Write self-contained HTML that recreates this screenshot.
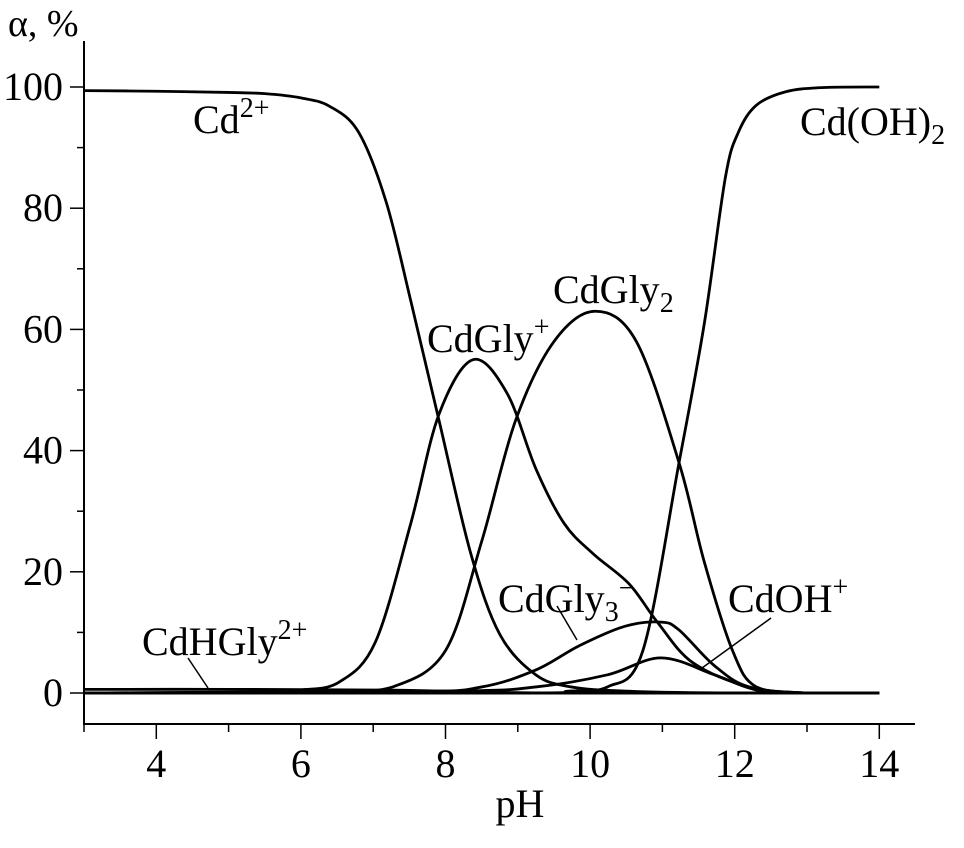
<!DOCTYPE html>
<html><head><meta charset="utf-8"><style>
body{margin:0;background:#fff}
svg text{font-family:"Liberation Serif",serif;fill:#000}
</style></head><body>
<svg id="c" width="964" height="843" xmlns="http://www.w3.org/2000/svg"></svg>
<script>
const xTicks=[4,6,8,10,12,14];
const yTicks=[0,20,40,60,80,100];
const cd2=[[3,99.4],[4,99.3],[5,99.1],[5.5,98.9],[6,98.2],[6.4,96.8],[6.8,92.5],[7.18,81],[7.52,64.7],[7.91,45],[8.35,23],[8.75,9.7],[9.25,3],[9.74,1],[10.5,0.3],[12,0],[14,0]];
const cdGly=[[3,0],[5.5,0.2],[6,0.5],[6.53,1.8],[7.03,8.4],[7.52,28],[7.91,46],[8.38,55],[8.85,49.5],[9.25,37],[9.64,28],[10.04,23],[10.54,18],[10.93,11.7],[11.42,5],[12.2,1],[13,0],[14,0]];
const cdGly2=[[3,0],[6,0],[6.5,0.2],[7.27,1],[8.0,7],[8.5,25],[8.97,45],[9.5,58],[10.07,63],[10.64,58],[11.23,38],[11.58,21.6],[11.97,7],[12.3,1],[13,0],[14,0]];
const cdOH2=[[3,0],[9,0],[9.7,0.3],[10.24,1],[10.73,7],[11.23,38],[11.58,61],[11.87,85],[12.05,92.5],[12.3,97],[12.7,99.2],[13.2,99.9],[14,100]];
const cdGly3=[[3,0],[7.5,0.2],[8.5,1],[9.25,3.8],[9.85,7.8],[10.48,11],[10.98,11.7],[11.23,10.4],[11.72,4.5],[12.2,1],[13,0],[14,0]];
const cdOH=[[3,0],[8,0.3],[9.25,1],[10.24,3],[10.98,5.8],[11.72,3],[12.3,0.5],[13,0],[14,0]];
const cdHGly=[[3,0.6],[5,0.6],[7,0.5],[8,0.3],[9,0.05],[10,0],[14,0]];
const X=p=>84+72.3*(p-3), Y=v=>693-6.06*v;
const svg=document.getElementById('c'),NS='http://www.w3.org/2000/svg';
function mk(t,a,parent){const e=document.createElementNS(NS,t);for(const k in a)e.setAttribute(k,a[k]);(parent||svg).appendChild(e);return e;}
function path(pts){const P=pts.map(p=>[X(p[0]),Y(p[1])]);let d='M'+P[0][0]+','+P[0][1];
for(let i=0;i<P.length-1;i++){const p0=P[Math.max(i-1,0)],p1=P[i],p2=P[i+1],p3=P[Math.min(i+2,P.length-1)];
const c1=[p1[0]+(p2[0]-p0[0])/6,p1[1]+(p2[1]-p0[1])/6],c2=[p2[0]-(p3[0]-p1[0])/6,p2[1]-(p3[1]-p1[1])/6];
d+=` C${c1[0]},${Math.min(c1[1],693)} ${c2[0]},${Math.min(c2[1],693)} ${p2[0]},${p2[1]}`;}return d;}
let e=mk('line',{x1:84,y1:41,x2:84,y2:724,stroke:'#000','stroke-width':2});

e=mk('line',{x1:83,y1:724,x2:915,y2:724,stroke:'#000','stroke-width':2});

for(let p=3;p<=14;p++){const maj=p%2==0;e=mk('line',{x1:X(p),y1:724,x2:X(p),y2:maj?739:732,stroke:'#000','stroke-width':1.5});
}
xTicks.forEach(t=>{e=mk('text',{x:X(t),y:777,'font-size':40,'text-anchor':'middle'});e.textContent=t;
});
for(let v=0;v<=100;v+=10){const maj=v%20==0;e=mk('line',{x1:maj?70:77,y1:Y(v),x2:84,y2:Y(v),stroke:'#000','stroke-width':1.5});
}
yTicks.forEach(t=>{e=mk('text',{x:63,y:Y(t)+13,'font-size':40,'text-anchor':'end'});e.textContent=t;
});
e=mk('text',{x:520,y:817,'font-size':40,'text-anchor':'middle'});e.textContent='pH';

e=mk('text',{x:8,y:36,'font-size':38});e.textContent='α, %';

[['cd2-curve',cd2],['cdgly-curve',cdGly],['cdgly2-curve',cdGly2],['cdoh2-curve',cdOH2],['cdgly3-curve',cdGly3],['cdoh-curve',cdOH],['cdhgly-curve',cdHGly]].forEach(s=>{
e=mk('path',{d:path(s[1]),fill:'none',stroke:'#000','stroke-width':2.8});
});
e=mk('line',{x1:84,y1:693,x2:879,y2:693,stroke:'#000','stroke-width':3});

function lab(x,y,main,sup,sub,name){const t=mk('text',{x:x,y:y,'font-size':40});
t.appendChild(document.createTextNode(main));
if(sub){const s=mk('tspan',{'font-size':28,dy:9},t);s.textContent=sub;}
if(sup){const s=mk('tspan',{'font-size':28,dy:sub?-24:-16},t);s.textContent=sup;}}
lab(193,133,'Cd','2+',null,'cd2-label');
lab(800,135,'Cd(OH)','',"2",'cdoh2-label');
lab(553,303,'CdGly','',"2",'cdgly2-label');
lab(427,352,'CdGly','+',null,'cdgly-label');
lab(498,612,'CdGly','−','3','cdgly3-label');
lab(728,612,'CdOH','+',null,'cdoh-label');
lab(142,655,'CdHGly','2+',null,'cdhgly-label');
[[557,606,577,640],[771,618,702,668],[188,658,208,688]].forEach(l=>{e=mk('line',{x1:l[0],y1:l[1],x2:l[2],y2:l[3],stroke:'#000','stroke-width':1.5});
});
</script>
</body></html>
